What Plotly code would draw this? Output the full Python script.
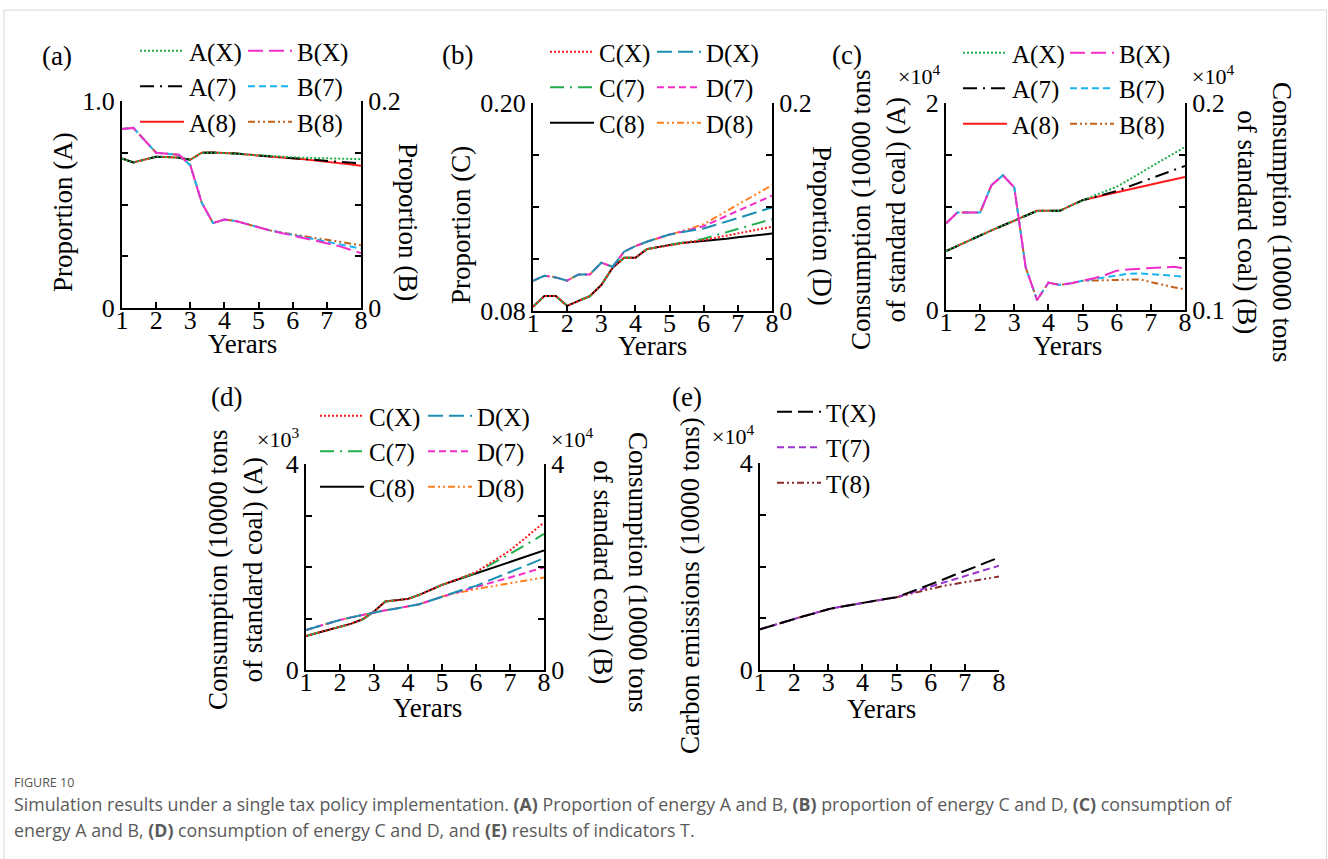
import plotly.graph_objects as go

W, H = 1328, 859
SERIF = "Liberation Serif, Times New Roman, serif"
FS_TICK = 26
FS_TITLE = 27
FS_LEG = 25

# ---------------- data ----------------
years = [1.0, 1.333, 1.667, 2.0, 2.333, 2.667, 3.0, 3.333, 3.667, 4.0, 4.333,
         4.667, 5.0, 5.333, 5.667, 6.0, 6.333, 6.667, 7.0, 7.333, 7.667, 8.0]

# (a) proportion of energy A (left axis) and B (right axis)
a_A_base = [0.722, 0.703, 0.717, 0.731, 0.729, 0.726, 0.716, 0.750, 0.751, 0.750, 0.746, 0.741, 0.737]
a_A_X = [0.734, 0.731, 0.728, 0.726, 0.724, 0.722, 0.721, 0.720, 0.719]
a_A_7 = [0.733, 0.729, 0.725, 0.721, 0.717, 0.712, 0.708, 0.703, 0.698]
a_A_8 = [0.733, 0.728, 0.723, 0.718, 0.712, 0.707, 0.701, 0.694, 0.687]
a_B_base = [0.173, 0.174, 0.162, 0.150, 0.149, 0.148, 0.138, 0.102, 0.082, 0.0855, 0.084, 0.081, 0.0775]
a_B_X = [0.075, 0.0725, 0.0700, 0.0675, 0.0650, 0.0625, 0.0600, 0.0565, 0.0530]
a_B_7 = [0.075, 0.0728, 0.0706, 0.0685, 0.0665, 0.0645, 0.0622, 0.0598, 0.0574]
a_B_8 = [0.075, 0.0730, 0.0710, 0.0690, 0.0675, 0.0660, 0.0643, 0.0625, 0.0606]

# (b) proportion of energy C (left axis) and D (right axis)
b_C_base = [0.0825, 0.0886, 0.0886, 0.0830, 0.0858, 0.0886, 0.0950, 0.1050, 0.1107, 0.1107,
            0.1157, 0.1168, 0.1180, 0.1193]
b_C_X = [0.1200, 0.1209, 0.1222, 0.1235, 0.1248, 0.1260, 0.1273, 0.1286]
b_C_7 = [0.1203, 0.1217, 0.1236, 0.1255, 0.1273, 0.1292, 0.1311, 0.1330]
b_C_8 = [0.1198, 0.1203, 0.1210, 0.1217, 0.1225, 0.1232, 0.1240, 0.1247]
b_D_base = [0.0291, 0.0339, 0.0323, 0.0291, 0.0352, 0.0352, 0.0464, 0.0426, 0.0570, 0.0624,
            0.0666, 0.0698, 0.0736]
b_D_X = [0.0756, 0.0776, 0.0794, 0.0827, 0.0861, 0.0894, 0.0928, 0.0961, 0.0995]
b_D_7 = [0.0760, 0.0788, 0.0816, 0.0865, 0.0914, 0.0963, 0.1012, 0.1061, 0.1110]
b_D_8 = [0.0763, 0.0799, 0.0835, 0.0898, 0.0960, 0.1022, 0.1085, 0.1147, 0.1210]

# (c) consumption of energy A (left, x10^4) and B (right, x10^4)
c_A_base = [0.569, 0.620, 0.672, 0.723, 0.770, 0.816, 0.862, 0.910, 0.958, 0.958, 0.958, 1.010, 1.061]
c_A_X = [1.105, 1.148, 1.190, 1.254, 1.318, 1.383, 1.447, 1.512, 1.576]
c_A_7 = [1.090, 1.120, 1.150, 1.190, 1.230, 1.270, 1.311, 1.351, 1.392]
c_A_8 = [1.086, 1.110, 1.135, 1.160, 1.185, 1.210, 1.236, 1.261, 1.286]
c_B_base = [0.1418, 0.1471, 0.1471, 0.1471, 0.1603, 0.1651, 0.1592, 0.1206, 0.1048, 0.1132,
            0.1121, 0.1129, 0.1141]
c_B_X = [0.1153, 0.1169, 0.1190, 0.1196, 0.1199, 0.1201, 0.1207, 0.1209, 0.1201]
c_B_7 = [0.1150, 0.1160, 0.1169, 0.1175, 0.1177, 0.1173, 0.1168, 0.1165, 0.1161]
c_B_8 = [0.1143, 0.1144, 0.1145, 0.1147, 0.1148, 0.1135, 0.1122, 0.1110, 0.1100]

# (d) consumption of energy C (left, x10^3) and D (right, x10^4)
d_C_base = [0.661, 0.720, 0.780, 0.843, 0.900, 0.985, 1.135, 1.329, 1.355, 1.381, 1.459, 1.556, 1.653]
d_C_X = [1.730, 1.810, 1.900, 2.040, 2.180, 2.320, 2.500, 2.680, 2.865]
d_C_7 = [1.730, 1.810, 1.890, 2.010, 2.130, 2.250, 2.380, 2.510, 2.645]
d_C_8 = [1.727, 1.801, 1.876, 1.950, 2.024, 2.098, 2.173, 2.247, 2.321]
d_D_base = [0.778, 0.845, 0.910, 0.972, 1.022, 1.072, 1.122, 1.160, 1.196, 1.232, 1.277, 1.350, 1.426]
d_D_X = [1.500, 1.570, 1.634, 1.720, 1.810, 1.900, 1.990, 2.080, 2.172]
d_D_7 = [1.490, 1.550, 1.610, 1.670, 1.730, 1.800, 1.860, 1.930, 1.990]
d_D_8 = [1.480, 1.530, 1.573, 1.610, 1.650, 1.680, 1.720, 1.760, 1.796]

# (e) carbon emissions T (x10^4)
e_T_base = [0.787, 0.855, 0.920, 0.987, 1.050, 1.110, 1.174, 1.220, 1.260, 1.303, 1.340, 1.370, 1.406]
e_T_X = [1.490, 1.570, 1.645, 1.740, 1.830, 1.910, 2.000, 2.090, 2.174]
e_T_7 = [1.470, 1.540, 1.613, 1.680, 1.750, 1.810, 1.880, 1.950, 2.013]
e_T_8 = [1.460, 1.520, 1.580, 1.620, 1.660, 1.700, 1.740, 1.770, 1.806]

# ---------------- styles ----------------
DOT = "2px,2px"
DASHDOT = "14px,6px,2px,6px"
LONGDASH = "15px,6px"
DASH = "7px,4px"
DASHDOTDOT = "7px,3px,2px,3px,2px,3px"

GREEN = "#1fae4b"
MAGENTA = "#f22cc8"
CYAN = "#18b4f0"
BROWN = "#c0601a"
RED = "#ff1a1a"
TEAL = "#1a8fb0"
ORANGE = "#ff8020"
PURPLE = "#9933cc"
DARKRED = "#8b2a2a"


def px(x):
    return x / W


def py(y):
    return 1 - y / H


fig = go.Figure()


def add(xs, ys, name, color, dash, xa, ya, leg, rank):
    fig.add_trace(go.Scatter(
        x=xs, y=ys, name=name, mode="lines",
        line=dict(color=color, dash=dash, width=2),
        xaxis=xa, yaxis=ya, legend=leg, legendgroup=name + xa, legendrank=rank,
        showlegend=True, hoverinfo="skip"))


# draw order: scenario 8 first, then 7, then X on top; legend order X, 7, 8
# (a)
add(years, a_A_base + a_A_8, "A(8)", RED, "solid", "x", "y", "legend", 3)
add(years, a_B_base + a_B_8, "B(8)", BROWN, DASHDOTDOT, "x", "y2", "legend2", 3)
add(years, a_A_base + a_A_7, "A(7)", "black", DASHDOT, "x", "y", "legend", 2)
add(years, a_B_base + a_B_7, "B(7)", CYAN, DASH, "x", "y2", "legend2", 2)
add(years, a_A_base + a_A_X, "A(X)", GREEN, DOT, "x", "y", "legend", 1)
add(years, a_B_base + a_B_X, "B(X)", MAGENTA, LONGDASH, "x", "y2", "legend2", 1)
# (b)
add(years, b_C_base + b_C_8, "C(8)", "black", "solid", "x2", "y3", "legend3", 3)
add(years, b_D_base + b_D_8, "D(8)", ORANGE, DASHDOTDOT, "x2", "y4", "legend4", 3)
add(years, b_C_base + b_C_7, "C(7)", GREEN, DASHDOT, "x2", "y3", "legend3", 2)
add(years, b_D_base + b_D_7, "D(7)", MAGENTA, DASH, "x2", "y4", "legend4", 2)
add(years, b_C_base + b_C_X, "C(X)", RED, DOT, "x2", "y3", "legend3", 1)
add(years, b_D_base + b_D_X, "D(X)", TEAL, LONGDASH, "x2", "y4", "legend4", 1)
# (c)
add(years, c_A_base + c_A_8, "A(8)", RED, "solid", "x3", "y5", "legend5", 3)
add(years, c_B_base + c_B_8, "B(8)", BROWN, DASHDOTDOT, "x3", "y6", "legend6", 3)
add(years, c_A_base + c_A_7, "A(7)", "black", DASHDOT, "x3", "y5", "legend5", 2)
add(years, c_B_base + c_B_7, "B(7)", CYAN, DASH, "x3", "y6", "legend6", 2)
add(years, c_A_base + c_A_X, "A(X)", GREEN, DOT, "x3", "y5", "legend5", 1)
add(years, c_B_base + c_B_X, "B(X)", MAGENTA, LONGDASH, "x3", "y6", "legend6", 1)
# (d)
add(years, d_C_base + d_C_8, "C(8)", "black", "solid", "x4", "y7", "legend7", 3)
add(years, d_D_base + d_D_8, "D(8)", ORANGE, DASHDOTDOT, "x4", "y8", "legend8", 3)
add(years, d_C_base + d_C_7, "C(7)", GREEN, DASHDOT, "x4", "y7", "legend7", 2)
add(years, d_D_base + d_D_7, "D(7)", MAGENTA, DASH, "x4", "y8", "legend8", 2)
add(years, d_C_base + d_C_X, "C(X)", RED, DOT, "x4", "y7", "legend7", 1)
add(years, d_D_base + d_D_X, "D(X)", TEAL, LONGDASH, "x4", "y8", "legend8", 1)
# (e)
add(years, e_T_base + e_T_8, "T(8)", DARKRED, DASHDOTDOT, "x5", "y9", "legend9", 3)
add(years, e_T_base + e_T_7, "T(7)", PURPLE, DASH, "x5", "y9", "legend9", 2)
add(years, e_T_base + e_T_X, "T(X)", "black", LONGDASH, "x5", "y9", "legend9", 1)

axis_common = dict(showline=True, linecolor="black", linewidth=2, ticks="inside",
                   ticklen=6, tickwidth=1.5, tickcolor="black", showgrid=False,
                   zeroline=False, tickfont=dict(family=SERIF, size=FS_TICK, color="black"),
                   fixedrange=True, automargin=False)

panels = {
    # name: (x0, x1, ytop, ybottom)
    "a": (122, 361, 101, 308),
    "b": (533, 772, 103, 311),
    "c": (946, 1185, 103, 310),
    "d": (306, 544, 464, 670),
    "e": (760, 999, 463, 670),
}

layout = dict(width=W, height=H, margin=dict(l=0, r=0, t=0, b=0, pad=0, autoexpand=False),
              paper_bgcolor="white", plot_bgcolor="rgba(0,0,0,0)",
              font=dict(family=SERIF, size=FS_TICK, color="black"))

xnames = ["xaxis", "xaxis2", "xaxis3", "xaxis4", "xaxis5"]
ynames_left = ["y", "y3", "y5", "y7", "y9"]
for i, key in enumerate(["a", "b", "c", "d", "e"]):
    x0, x1, yt, yb = panels[key]
    layout[xnames[i]] = dict(axis_common, domain=[px(x0), px(x1)], range=[1, 8],
                             tickvals=[1, 2, 3, 4, 5, 6, 7, 8], ticklabelstandoff=-12,
                             anchor=ynames_left[i])


def yax(key, xid, rng, tv, tt, side="left", overlay=None):
    x0, x1, yt, yb = panels[key]
    d = dict(axis_common, domain=[py(yb), py(yt)], range=rng, tickvals=tv, ticktext=tt,
             anchor=xid, side=side)
    if overlay:
        d["overlaying"] = overlay
    return d


layout["yaxis"] = yax("a", "x", [0, 1], [0, 0.25, 0.5, 0.75, 1], ["0", "", "", "", "1.0"])
layout["yaxis2"] = yax("a", "x", [0, 0.2], [0, 0.05, 0.1, 0.15, 0.2], ["0", "", "", "", "0.2"], "right", "y")
layout["yaxis3"] = yax("b", "x2", [0.08, 0.2], [0.08, 0.11, 0.14, 0.17, 0.2], ["0.08", "", "", "", "0.20"])
layout["yaxis4"] = yax("b", "x2", [0, 0.2], [0, 0.05, 0.1, 0.15, 0.2], ["0", "", "", "", "0.2"], "right", "y3")
layout["yaxis5"] = yax("c", "x3", [0, 2], [0, 0.5, 1, 1.5, 2], ["0", "", "", "", "2"])
layout["yaxis6"] = yax("c", "x3", [0.1, 0.2], [0.1, 0.125, 0.15, 0.175, 0.2], ["0.1", "", "", "", "0.2"], "right", "y5")
layout["yaxis7"] = yax("d", "x4", [0, 4], [0, 1, 2, 3, 4], ["0", "", "", "", "4"])
layout["yaxis8"] = yax("d", "x4", [0, 4], [0, 1, 2, 3, 4], ["0", "", "", "", "4"], "right", "y7")
layout["yaxis9"] = yax("e", "x5", [0, 4], [0, 1, 2, 3, 4], ["0", "", "", "", "4"])

# legends: (sample start x, first row center y)
legend_pos = {
    "legend": (140, 53), "legend2": (248, 53),
    "legend3": (550, 54), "legend4": (657, 54),
    "legend5": (963, 55), "legend6": (1070, 55),
    "legend7": (320, 418), "legend8": (428, 418),
    "legend9": (777, 414),
}
for lg, (lx, ly) in legend_pos.items():
    layout[lg] = dict(x=px(lx - 5), y=py(ly - 25), xanchor="left", yanchor="top",
                      bgcolor="rgba(0,0,0,0)", borderwidth=0, itemwidth=44,
                      tracegroupgap=0, font=dict(family=SERIF, size=FS_LEG, color="black"),
                      orientation="v", itemclick=False, itemdoubleclick=False)

ann = []


def text(x, y, s, size=FS_TITLE, angle=0, **kw):
    ann.append(dict(x=px(x), y=py(y), xref="paper", yref="paper", text=s, showarrow=False,
                    textangle=angle, xanchor="center", yanchor="middle",
                    font=dict(family=SERIF, size=size, color="black"), **kw))


# panel labels
for lab, (x, y) in {"(a)": (57, 56), "(b)": (457, 55), "(c)": (847, 55),
                    "(d)": (227, 397), "(e)": (687, 397)}.items():
    text(x, y, lab)
# x titles
for (x, y) in [(242, 344), (652, 346), (1067, 346), (427, 708), (881, 709)]:
    text(x, y, "Yerars")
# y titles
text(63, 212, "Proportion (A)", angle=-90)
text(408, 222, "Proportion (B)", angle=90)
text(461, 225, "Proportion (C)", angle=-90)
text(822, 226, "Proportion (D)", angle=90)
text(878, 210, "Consumption (10000 tons<br>of standard coal) (A)", angle=-90)
text(1264, 222, "Consumption (10000 tons<br>of standard coal) (B)", angle=90)
text(235, 570, "Consumption (10000 tons<br>of standard coal) (A)", angle=-90)
text(621, 572, "Consumption (10000 tons<br>of standard coal) (B)", angle=90)
text(690, 586, "Carbon emissions (10000 tons)", angle=-90)
# multipliers
text(919, 75, "×10<sup>4</sup>", size=22)
text(1213, 75, "×10<sup>4</sup>", size=22)
text(278, 438, "×10<sup>3</sup>", size=22)
text(572, 438, "×10<sup>4</sup>", size=22)
text(733, 435, "×10<sup>4</sup>", size=22)

# caption
CAP = "Open Sans, Liberation Sans, sans-serif"
ann.append(dict(x=px(12), y=py(782), xref="paper", yref="paper", text="FIGURE 10",
                showarrow=False, xanchor="left", yanchor="middle",
                font=dict(family="Liberation Sans Narrow, " + CAP, size=12.5, color="#555555")))
ann.append(dict(x=px(12), y=py(804), xref="paper", yref="paper",
                text=("Simulation results under a single tax policy implementation. <b>(A)</b> Proportion of energy A and B, "
                      "<b>(B)</b> proportion of energy C and D, <b>(C)</b> consumption of"),
                showarrow=False, xanchor="left", yanchor="middle", align="left",
                font=dict(family=CAP, size=17.8, color="#5a5a5a")))
ann.append(dict(x=px(12), y=py(830), xref="paper", yref="paper",
                text=("energy A and B, <b>(D)</b> consumption of energy C and D, and <b>(E)</b> results of indicators T."),
                showarrow=False, xanchor="left", yanchor="middle", align="left",
                font=dict(family=CAP, size=17.8, color="#5a5a5a")))

layout["annotations"] = ann
layout["shapes"] = [dict(type="rect", xref="paper", yref="paper", x0=px(4), x1=px(1326.5),
                         y0=py(880), y1=py(10), line=dict(color="#d6d6d6", width=1),
                         fillcolor="rgba(0,0,0,0)", layer="below")]
layout["showlegend"] = True

fig.update_layout(layout)
fig.write_html("out.html")
